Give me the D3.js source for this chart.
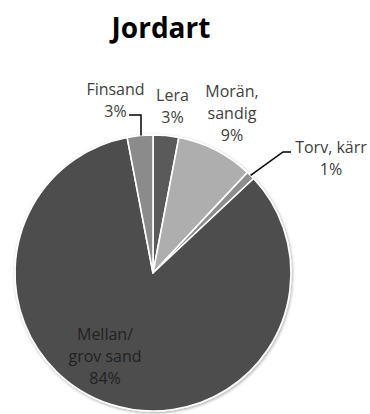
<!DOCTYPE html>
<html>
<head>
<meta charset="utf-8">
<script src="https://cdn.jsdelivr.net/npm/d3@7"></script>
<style>
  html, body { margin: 0; padding: 0; background: #fff; }
  svg { display: block; }
</style>
</head>
<body>
<script>
// Soil type shares (percent), clockwise from 12 o'clock
const categories = ["Lera", "Morän, sandig", "Torv, kärr", "Mellan/ grov sand", "Finsand"];
const values = [3, 9, 1, 84, 3];
const labelLines = [["Lera", "3%"], ["Morän,", "sandig", "9%"], ["Torv, kärr", "1%"], ["Mellan/", "grov sand", "84%"], ["Finsand", "3%"]];
const sliceColors = ["#5a5a5a", "#aeaeae", "#8e8e8e", "#4e4e4e", "#8b8b8b"];

const W = 370, H = 414;
const cx = 153, cy = 273, R = 138;

const svg = d3.select("body").append("svg")
  .attr("width", W).attr("height", H);

const defs = svg.append("defs");
const f = defs.append("filter").attr("id", "pieShadow")
  .attr("x", "-10%").attr("y", "-10%").attr("width", "120%").attr("height", "120%");
f.append("feDropShadow").attr("dx", 0.8).attr("dy", 1.2)
  .attr("stdDeviation", 1.6).attr("flood-color", "#000").attr("flood-opacity", 0.35);

// Title
svg.append("text")
  .attr("x", 161).attr("y", 38)
  .attr("text-anchor", "middle")
  .attr("font-family", "'Open Sans', sans-serif")
  .attr("font-weight", 700)
  .attr("font-size", 28)
  .attr("fill", "#000")
  .text("Jordart");

const pie = d3.pie().sort(null).value(d => d)
  .startAngle(0).endAngle(2 * Math.PI);
const arcs = pie(values);
const arc = d3.arc().innerRadius(0).outerRadius(R);
const edgeArc = d3.arc().innerRadius(R).outerRadius(R);

const g = svg.append("g").attr("transform", `translate(${cx},${cy})`);

g.append("g").attr("filter", "url(#pieShadow)")
  .selectAll("path")
  .data(arcs)
  .join("path")
  .attr("d", arc)
  .attr("fill", (d, i) => sliceColors[i])
  .attr("stroke", "#fff")
  .attr("stroke-width", 1.6)
  .attr("stroke-linejoin", "round");

// Label placement (absolute page coordinates of the text block centre / first baseline)
const labelPos = [
  { x: 172.5, y: 101, color: "#404040" },
  { x: 232, y: 97, color: "#404040" },
  { x: 331, y: 153, color: "#404040" },
  { x: 105, y: 340, color: "#222" },
  { x: 115.5, y: 95, color: "#404040" }
];
const lineGap = 22;

const labels = svg.append("g")
  .attr("font-family", "'Open Sans', sans-serif")
  .attr("font-size", 16)
  .attr("text-anchor", "middle");

labelLines.forEach((lines, i) => {
  const t = labels.append("text")
    .attr("fill", labelPos[i].color);
  lines.forEach((ln, k) => {
    t.append("tspan")
      .attr("x", labelPos[i].x)
      .attr("y", labelPos[i].y + k * lineGap)
      .text(ln);
  });
});

// Leader lines for the thin slices
function edgePoint(i) {
  const c = edgeArc.centroid(arcs[i]);
  return [cx + c[0], cy + c[1]];
}
const leaders = [
  { i: 4, pts: [[129, 115], [141, 115]] },
  { i: 2, pts: [[291, 152], [283, 152]] }
];
leaders.forEach(l => {
  const e = edgePoint(l.i);
  const pts = l.pts.slice();
  if (l.i === 4) pts.push([pts[1][0], e[1]]);
  else pts.push(e);
  svg.append("path")
    .attr("d", d3.line()(pts))
    .attr("fill", "none")
    .attr("stroke", "#000")
    .attr("stroke-width", 1.5);
});
</script>
</body>
</html>
